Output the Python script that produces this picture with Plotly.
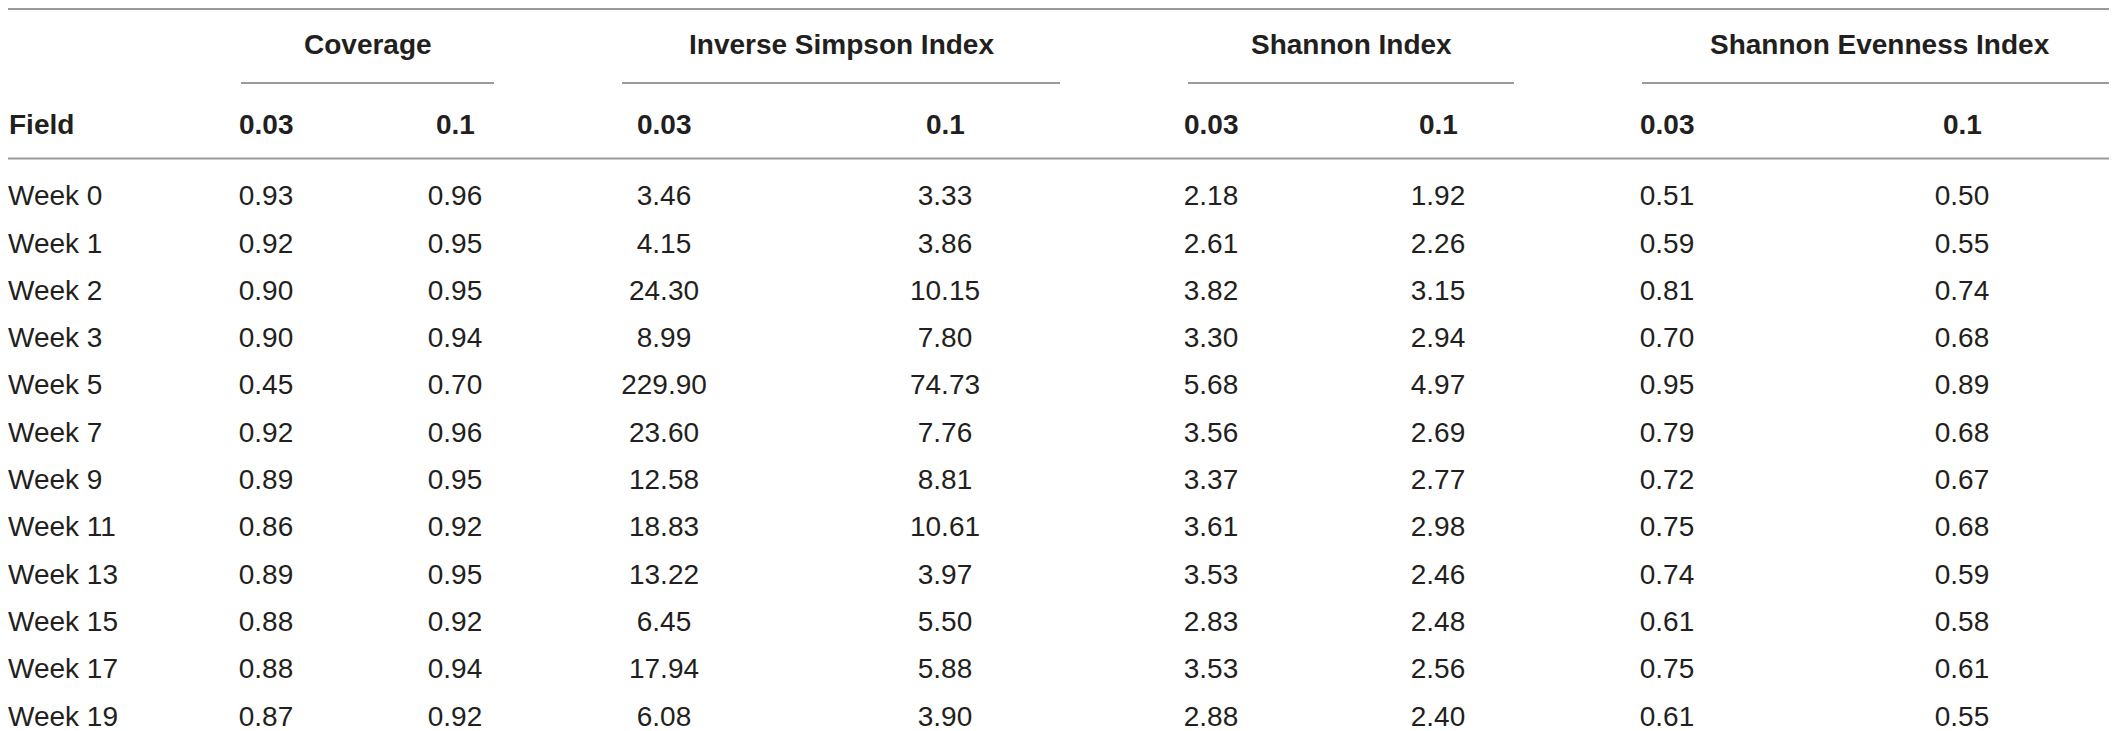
import plotly.graph_objects as go

# ---------------- data ----------------
fields = ["Week 0", "Week 1", "Week 2", "Week 3", "Week 5", "Week 7", "Week 9",
          "Week 11", "Week 13", "Week 15", "Week 17", "Week 19"]
groups = ["Coverage", "Inverse Simpson Index", "Shannon Index", "Shannon Evenness Index"]
cutoffs = ["0.03", "0.1"]
row_header = "Field"

coverage_003 = [0.93, 0.92, 0.90, 0.90, 0.45, 0.92, 0.89, 0.86, 0.89, 0.88, 0.88, 0.87]
coverage_01 = [0.96, 0.95, 0.95, 0.94, 0.70, 0.96, 0.95, 0.92, 0.95, 0.92, 0.94, 0.92]
invsimpson_003 = [3.46, 4.15, 24.30, 8.99, 229.90, 23.60, 12.58, 18.83, 13.22, 6.45, 17.94, 6.08]
invsimpson_01 = [3.33, 3.86, 10.15, 7.80, 74.73, 7.76, 8.81, 10.61, 3.97, 5.50, 5.88, 3.90]
shannon_003 = [2.18, 2.61, 3.82, 3.30, 5.68, 3.56, 3.37, 3.61, 3.53, 2.83, 3.53, 2.88]
shannon_01 = [1.92, 2.26, 3.15, 2.94, 4.97, 2.69, 2.77, 2.98, 2.46, 2.48, 2.56, 2.40]
evenness_003 = [0.51, 0.59, 0.81, 0.70, 0.95, 0.79, 0.72, 0.75, 0.74, 0.61, 0.75, 0.61]
evenness_01 = [0.50, 0.55, 0.74, 0.68, 0.89, 0.68, 0.67, 0.68, 0.59, 0.58, 0.61, 0.55]

series = [coverage_003, coverage_01, invsimpson_003, invsimpson_01,
          shannon_003, shannon_01, evenness_003, evenness_01]

# ---------------- layout / style ----------------
PAGE_W, PAGE_H = 2117, 731
BODY_MARGIN = 8                      # default page margin around the plot div
W, H = PAGE_W - BODY_MARGIN, PAGE_H - BODY_MARGIN
COL_X = [266, 455, 664, 945, 1211, 1438, 1667, 1962]       # column centres
GROUP_SPAN = [(241, 494), (622, 1060), (1188, 1514), (1642, 2117)]
ROW0_PX, ROW_STEP_PX = 198.2, 47.3   # row-unit -> page-pixel mapping of the y axis


def px_to_row(p):
    return (p - ROW0_PX) / ROW_STEP_PX


Y_RANGE = [px_to_row(PAGE_H), px_to_row(BODY_MARGIN)]
Y_GROUP = px_to_row(44)
Y_UNDERLINE = px_to_row(83)
Y_SUBHEAD = px_to_row(124)
Y_HEADLINE = px_to_row(158.5)
Y_TOPLINE = px_to_row(BODY_MARGIN + 1)
LINE_COLOR = "#9a9a9a"
TEXT_COLOR = "#231f20"
FONT = "Liberation Sans, Arial, sans-serif"
FS = 28

fig = go.Figure()

rows = list(range(len(fields)))

# row labels
fig.add_trace(go.Scatter(
    x=[BODY_MARGIN] * len(fields), y=rows, mode="text", text=fields,
    textposition="middle right",
    textfont=dict(family=FONT, size=FS, color=TEXT_COLOR),
    hoverinfo="skip", showlegend=False, cliponaxis=False))

# value columns
for cx, vals in zip(COL_X, series):
    fig.add_trace(go.Scatter(
        x=[cx] * len(vals), y=rows, mode="text",
        text=[f"{v:.2f}" for v in vals],
        textposition="middle center",
        textfont=dict(family=FONT, size=FS, color=TEXT_COLOR),
        hoverinfo="skip", showlegend=False, cliponaxis=False))

annotations = []
# header row
annotations.append(dict(x=0, y=Y_SUBHEAD, text=f"<b>{row_header}</b>", xanchor="left",
                        yanchor="middle", showarrow=False, xref="paper", yref="y", borderpad=0,
                        font=dict(family=FONT, size=FS, color=TEXT_COLOR)))
for i, cx in enumerate(COL_X):
    annotations.append(dict(x=cx, y=Y_SUBHEAD, text=f"<b>{cutoffs[i % 2]}</b>", xanchor="center",
                            yanchor="middle", showarrow=False, xref="x", yref="y",
                            font=dict(family=FONT, size=FS, color=TEXT_COLOR)))
# group headers
for g, (x0, x1) in zip(groups, GROUP_SPAN):
    annotations.append(dict(x=(x0 + x1) / 2, y=Y_GROUP, text=f"<b>{g}</b>", xanchor="center",
                            yanchor="middle", showarrow=False, xref="x", yref="y",
                            font=dict(family=FONT, size=FS, color=TEXT_COLOR)))

shapes = []
shapes.append(dict(type="line", xref="x", yref="y", x0=BODY_MARGIN, x1=PAGE_W, y0=Y_TOPLINE, y1=Y_TOPLINE,
                   line=dict(color=LINE_COLOR, width=2)))
shapes.append(dict(type="line", xref="x", yref="y", x0=BODY_MARGIN, x1=PAGE_W, y0=Y_HEADLINE, y1=Y_HEADLINE,
                   line=dict(color=LINE_COLOR, width=2)))
for x0, x1 in GROUP_SPAN:
    shapes.append(dict(type="line", xref="x", yref="y", x0=x0, x1=x1, y0=Y_UNDERLINE, y1=Y_UNDERLINE,
                       line=dict(color=LINE_COLOR, width=2)))

fig.update_layout(
    width=W, height=H,
    margin=dict(l=0, r=0, t=0, b=0),
    paper_bgcolor="white", plot_bgcolor="white",
    xaxis=dict(range=[BODY_MARGIN, PAGE_W], visible=False, fixedrange=True),
    yaxis=dict(range=Y_RANGE, visible=False, fixedrange=True),
    annotations=annotations, shapes=shapes,
    showlegend=False,
)

fig.write_html("out.html")
